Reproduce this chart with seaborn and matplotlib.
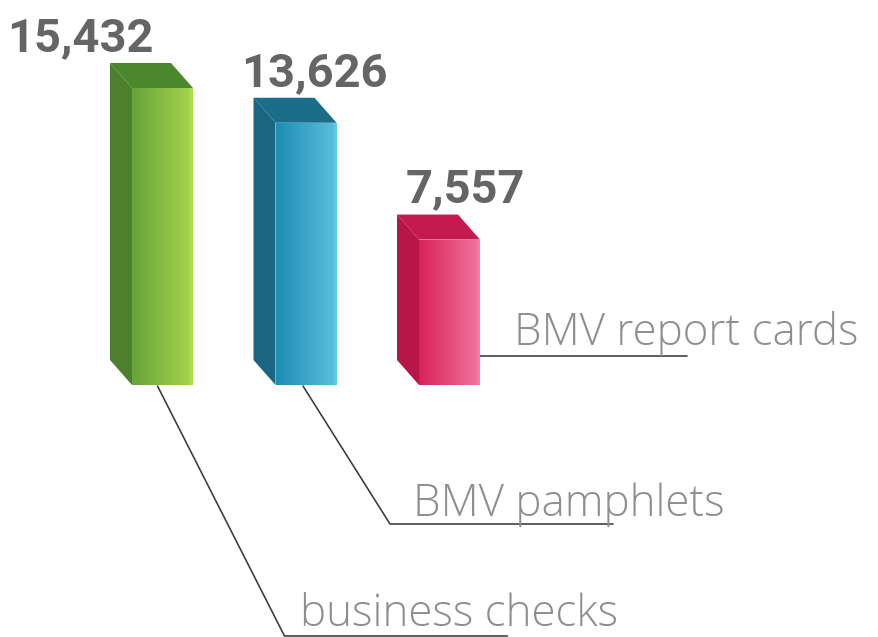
import matplotlib
matplotlib.use("Agg")
import matplotlib.pyplot as plt
from matplotlib.colors import to_rgb
from matplotlib.patches import Polygon
import seaborn as sns
import numpy as np
import pandas as pd

# data
categories = ["business checks", "BMV pamphlets", "BMV report cards"]
values = [15432, 13626, 7557]

# colours per bar: front gradient (left, right), side face, top face
front_left = ["#67a53a", "#1e8cb4", "#da2157"]
front_right = ["#a6d44c", "#5cc0e0", "#ee76a0"]
side_colors = ["#4e7f2d", "#1a6581", "#b8164a"]
top_colors = ["#4b872c", "#1b6d8a", "#c51a4f"]

# layout in pixels (dpi 72 -> 1 pt == 1 px)
W, H = 878, 637
label_dx = [-82, 8, 16]          # value label nudges
# leader lines: start offset from bar bottom centre, elbow offset, run length
lead_start = [(-5, -1), (-3, -1), (31, 29)]
lead_elbow = [(122, -251), (84, -139), (31, 29)]
lead_run = [223, 223, 207]
text_gap = [(16, 10), (23, 8), (34, 11)]

sns.set_style("white")
fig = plt.figure(figsize=(W / 72, H / 72), dpi=72)
ax = fig.add_axes([0, 0, 1, 1])

df = pd.DataFrame({"category": categories, "value": values})
sns.barplot(data=df, x="category", y="value", hue="category",
            palette=front_left, width=0.425, linewidth=0, legend=False, ax=ax)

vmax = max(values)
ax.set_xlim(-162.5 / 143.5, (W - 162.5) / 143.5)
ax.set_ylim(-vmax * 252 / 297, vmax * 385 / 297)
ax.axis("off")


def shift(x, y, dx, dy):
    X, Y = ax.transData.transform((x, y))
    return ax.transData.inverted().transform((X + dx, Y + dy))


depth = (-22, 25)
bars = [c.patches[0] for c in ax.containers]
for i, bar in enumerate(bars):
    x0, w, h = bar.get_x(), bar.get_width(), bar.get_height()
    x1 = x0 + w
    xc = x0 + w / 2

    # gradient on the front face
    t = np.linspace(0, 1, 256)
    c0, c1 = np.array(to_rgb(front_left[i])), np.array(to_rgb(front_right[i]))
    grad = c0[None, :] * (1 - t[:, None]) + c1[None, :] * t[:, None]
    grad[-15:] = np.clip(grad[-15:] + 0.03, 0, 1)
    im = ax.imshow(grad[None, :, :], extent=(x0, x1, 0, h), aspect="auto",
                   interpolation="bilinear", zorder=3)
    im.set_clip_path(bar)

    # side and top faces of the box
    bl = shift(x0, 0, *depth)
    tl = shift(x0, h, *depth)
    tr = shift(x1, h, *depth)
    ax.add_patch(Polygon([bl, tl, (x0, h), (x0, 0)], closed=True,
                         facecolor=side_colors[i], edgecolor="none", zorder=2))
    ax.add_patch(Polygon([tl, tr, (x1, h), (x0, h)], closed=True,
                         facecolor=top_colors[i], edgecolor="none", zorder=2))

    # value label above the box
    lx, ly = shift(xc, h, label_dx[i], depth[1] + 12)
    ax.text(lx, ly, f"{values[i]:,}", ha="center", va="baseline",
            fontsize=47, fontweight="bold", family="Roboto", color="#656565")

    # leader line and category name
    p0 = shift(xc, 0, *lead_start[i])
    p1 = shift(xc, 0, *lead_elbow[i])
    p2 = shift(xc, 0, lead_elbow[i][0] + lead_run[i], lead_elbow[i][1])
    ax.plot([p0[0], p1[0], p2[0]], [p0[1], p1[1], p2[1]],
            color="#3a3a3a", lw=1.6, zorder=1)
    tx, ty = shift(xc, 0, lead_elbow[i][0] + text_gap[i][0],
                   lead_elbow[i][1] + text_gap[i][1])
    ax.text(tx, ty, categories[i], ha="left", va="baseline", fontsize=44,
            family="Open Sans", fontweight="light", color="#8e8e8e")

fig.savefig("out.png", dpi=72)
